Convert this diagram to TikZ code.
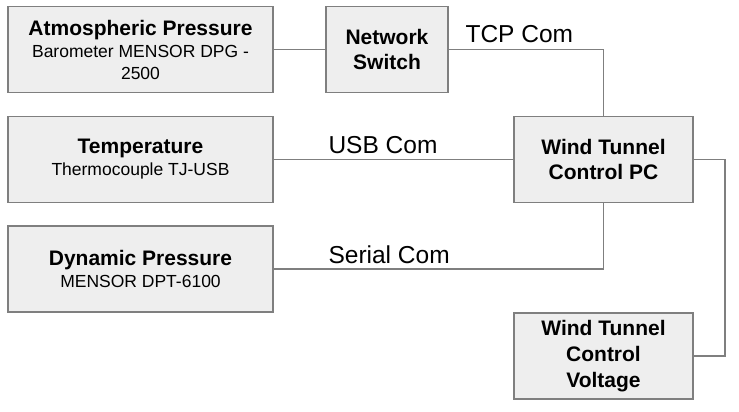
\documentclass[tikz,border=0pt]{standalone}
\usepackage{fontspec}
\setmainfont{Liberation Sans}
\usepackage{tikz}
\definecolor{boxfill}{HTML}{EEEEEE}
\definecolor{boxline}{HTML}{7F7F7F}
\begin{document}
\begin{tikzpicture}[line cap=rect,line join=miter,x=1pt,y=-1pt,
  unit/.style={draw=boxline,fill=boxfill,line width=1.6pt,inner sep=0pt,align=center,minimum height=86pt},
  wide/.style={unit,minimum width=265pt,font=\fontsize{17.5}{22}\selectfont},
  narrow/.style={unit,minimum width=179pt},
  head/.style={font=\fontsize{21}{25}\selectfont\bfseries},
  wire/.style={draw=boxline,line width=1.6pt},
  com/.style={font=\fontsize{24.5}{28}\selectfont,anchor=base west}]
\useasboundingbox (0,0) rectangle (739,412);
\node[wide] (atmo) at (140.5,49.5) {{\fontsize{21}{22}\selectfont\bfseries Atmospheric Pressure}\\Barometer MENSOR DPG -\\2500};
\node[unit,minimum width=122pt,head] (switch) at (387,49.5) {Network\\Switch};
\node[wide] (temp) at (140.5,159.5) {{\fontsize{21}{22}\selectfont\bfseries Temperature}\\Thermocouple TJ-USB};
\node[narrow,head] (pc) at (603.5,159.5) {Wind Tunnel\\Control PC};
\node[wide] (dyn) at (140.5,269) {{\fontsize{21}{22}\selectfont\bfseries Dynamic Pressure}\\MENSOR DPT-6100};
\node[narrow,font=\fontsize{21}{26}\selectfont\bfseries] (volt) at (603.5,356) {Wind Tunnel\\Control\\Voltage};
\coordinate (bend) at (725,159.5);
\draw[wire] (atmo) -- (switch);
\draw[wire] (switch.east) -| (pc.north);
\draw[wire] (temp) -- (pc);
\draw[wire] (dyn.east) -| (pc.south);
\draw[wire] (pc.east) -- (bend) |- (volt.east);
\node[com] (tcp) at (462,43) {TCP Com};
\node[com] (usb) at (325,153) {USB Com};
\node[com] (serial) at (325,263) {Serial Com};
\end{tikzpicture}
\end{document}
